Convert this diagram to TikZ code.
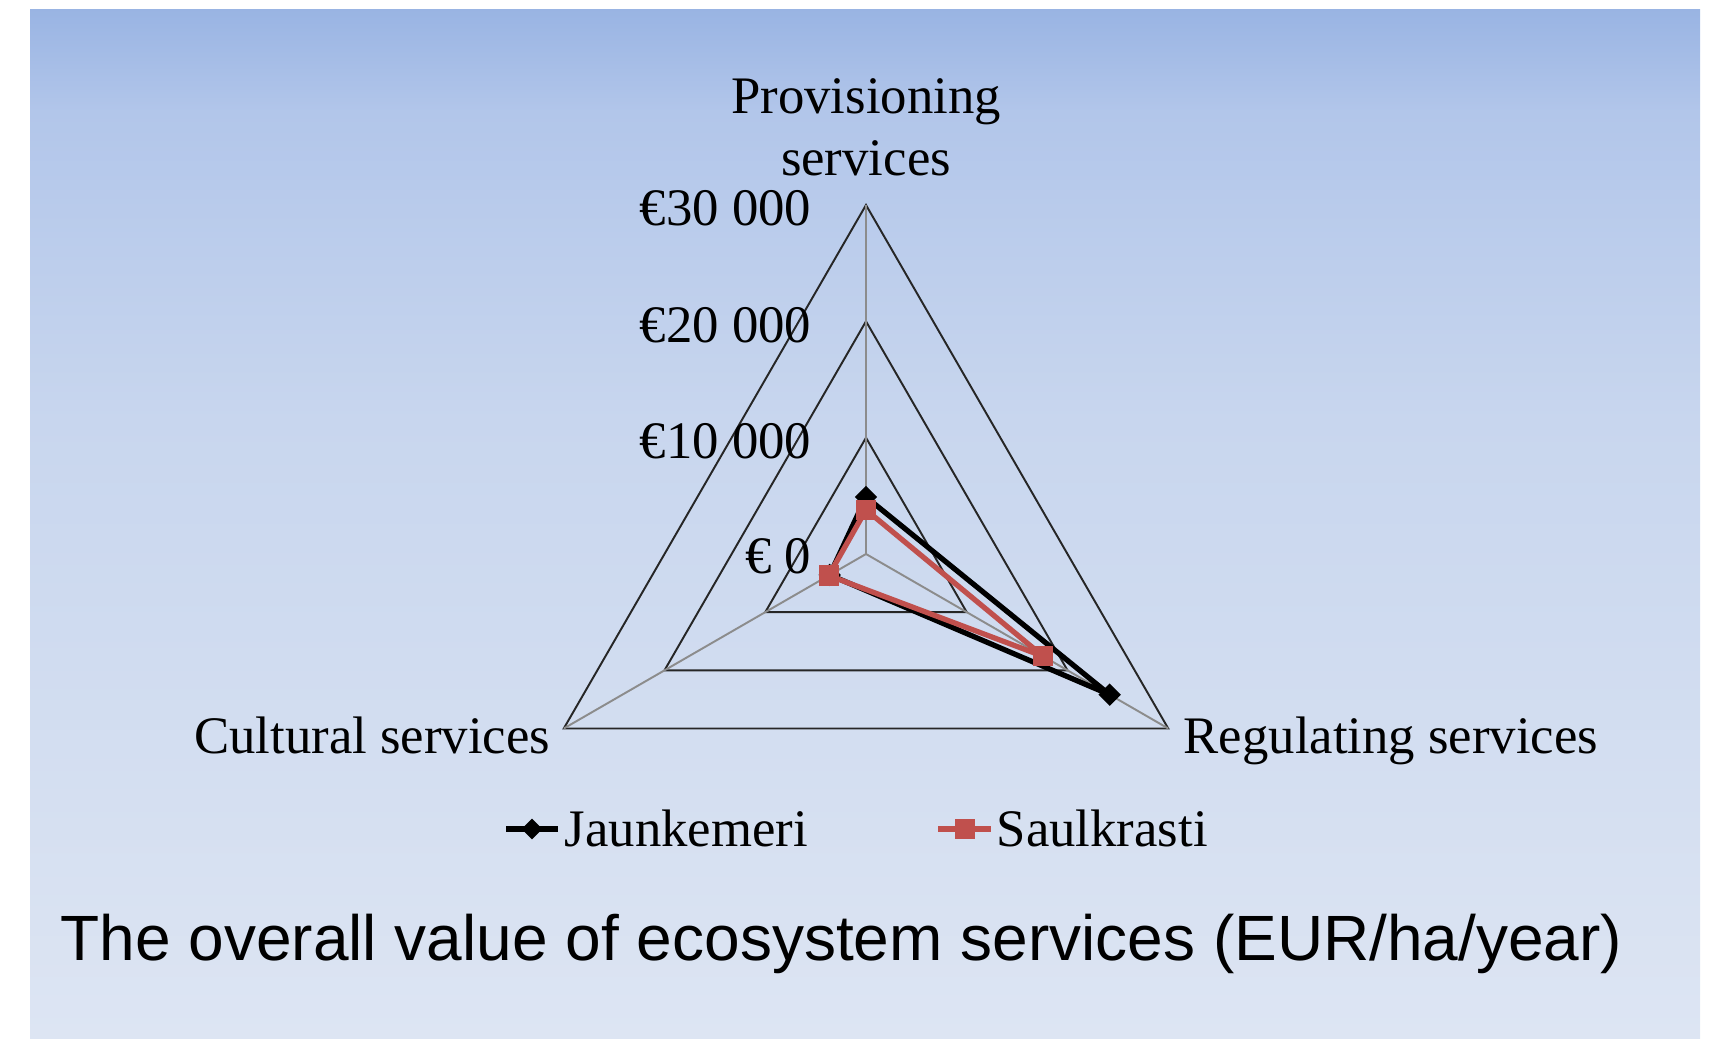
\documentclass[tikz,border=0pt]{standalone}
\usepackage{fontspec}
\setmainfont{Liberation Serif}
\newfontfamily\titlefont{Liberation Sans}
\usepackage{tikz}
\usetikzlibrary{positioning, calc, shapes.geometric}
\definecolor{bgtop}{RGB}{153,180,227}
\definecolor{bgupper}{RGB}{178,198,234}
\definecolor{bgmid}{RGB}{200,214,238}
\definecolor{bgbot}{RGB}{221,229,243}
\definecolor{saulred}{RGB}{192,80,77}
\pgfdeclareverticalshading{slidebg}{100bp}{color(0bp)=(bgbot); color(25bp)=(bgbot); color(55bp)=(bgmid); color(70bp)=(bgupper); color(75bp)=(bgtop); color(100bp)=(bgtop)}
\tikzstyle{gridline} = [black!85, line width=0.55pt, line join=miter]
\tikzstyle{axisline} = [black!45, line width=0.55pt]
\tikzstyle{jaun} = [black, line width=1.5pt, line join=round]
\tikzstyle{saul} = [saulred, line width=1.5pt, line join=round]
\tikzstyle{jmark} = [diamond, fill=black, inner sep=0pt, minimum size=0.23cm]
\tikzstyle{smark} = [rectangle, fill=saulred, inner sep=0pt, minimum size=0.2cm]
\tikzstyle{ticklabel} = [anchor=base east, inner sep=0pt, font=\fontsize{15}{18}\selectfont]
\tikzstyle{catlabel} = [inner sep=0pt, font=\fontsize{15}{17.6}\selectfont]

\begin{document}
\begin{tikzpicture}[x=0.01cm, y=0.01cm]
        \useasboundingbox (0,0) rectangle (1717,1038);
        \shade[shading=slidebg] (30,0) rectangle (1700,1029);

        % radar grid
        \coordinate (centre) at (866,484);
        \coordinate (prov) at ([shift={(90:349)}]centre);
        \coordinate (reg) at ([shift={(-30:349)}]centre);
        \coordinate (cult) at ([shift={(210:349)}]centre);
        \foreach \r in {116.3,232.7,349}
            \draw [gridline] ([shift={(90:\r)}]centre) -- ([shift={(-30:\r)}]centre) -- ([shift={(210:\r)}]centre) -- cycle;
        \draw [axisline] (centre) -- (prov);
        \draw [axisline] (centre) -- (reg);
        \draw [axisline] (centre) -- (cult);

        \node (tick0) [ticklabel] at (812,465) {€ 0};
        \node (tick10) [ticklabel] at (812,580) {€10 000};
        \node (tick20) [ticklabel] at (812,696) {€20 000};
        \node (tick30) [ticklabel] at (812,813) {€30 000};

        \node (provlabel) [catlabel, align=center] at (866,911) {Provisioning\\services};
        \node (reglabel) [catlabel, anchor=base west] at (1183,285) {Regulating services};
        \node (cultlabel) [catlabel, anchor=base east] at (551,285) {Cultural services};

        % Jaunkemeri
        \coordinate (j_prov) at ([shift={(90:57)}]centre);
        \coordinate (j_reg) at ([shift={(-30:281.4)}]centre);
        \coordinate (j_cult) at ([shift={(210:41.9)}]centre);
        \draw [jaun] (j_prov) -- (j_reg) -- (j_cult) -- cycle;
        \foreach \p in {j_prov, j_reg, j_cult}
            \node (\p_m) [jmark] at (\p) {};

        % Saulkrasti
        \coordinate (s_prov) at ([shift={(90:44.2)}]centre);
        \coordinate (s_reg) at ([shift={(-30:204.7)}]centre);
        \coordinate (s_cult) at ([shift={(210:43)}]centre);
        \draw [saul] (s_prov) -- (s_reg) -- (s_cult) -- cycle;
        \foreach \p in {s_prov, s_reg, s_cult}
            \node (\p_m) [smark] at (\p) {};

        % legend
        \coordinate (jleg_a) at (506,209);
        \coordinate (jleg_b) at (558,209);
        \draw [jaun] (jleg_a) -- (jleg_b) node[jmark, midway] (jleg_m) {};
        \node (jleg) [catlabel, anchor=base west] at (564,192) {Jaunkemeri};
        \coordinate (sleg_a) at (938,209);
        \coordinate (sleg_b) at (991,209);
        \draw [saul] (sleg_a) -- (sleg_b) node[smark, midway] (sleg_m) {};
        \node (sleg) [catlabel, anchor=base west] at (996,192) {Saulkrasti};

        \node (title) [anchor=base west, inner sep=0pt, font=\titlefont\fontsize{18.2}{22}\selectfont] at (60,78) {The overall value of ecosystem services (EUR/ha/year)};
\end{tikzpicture}
\end{document}
